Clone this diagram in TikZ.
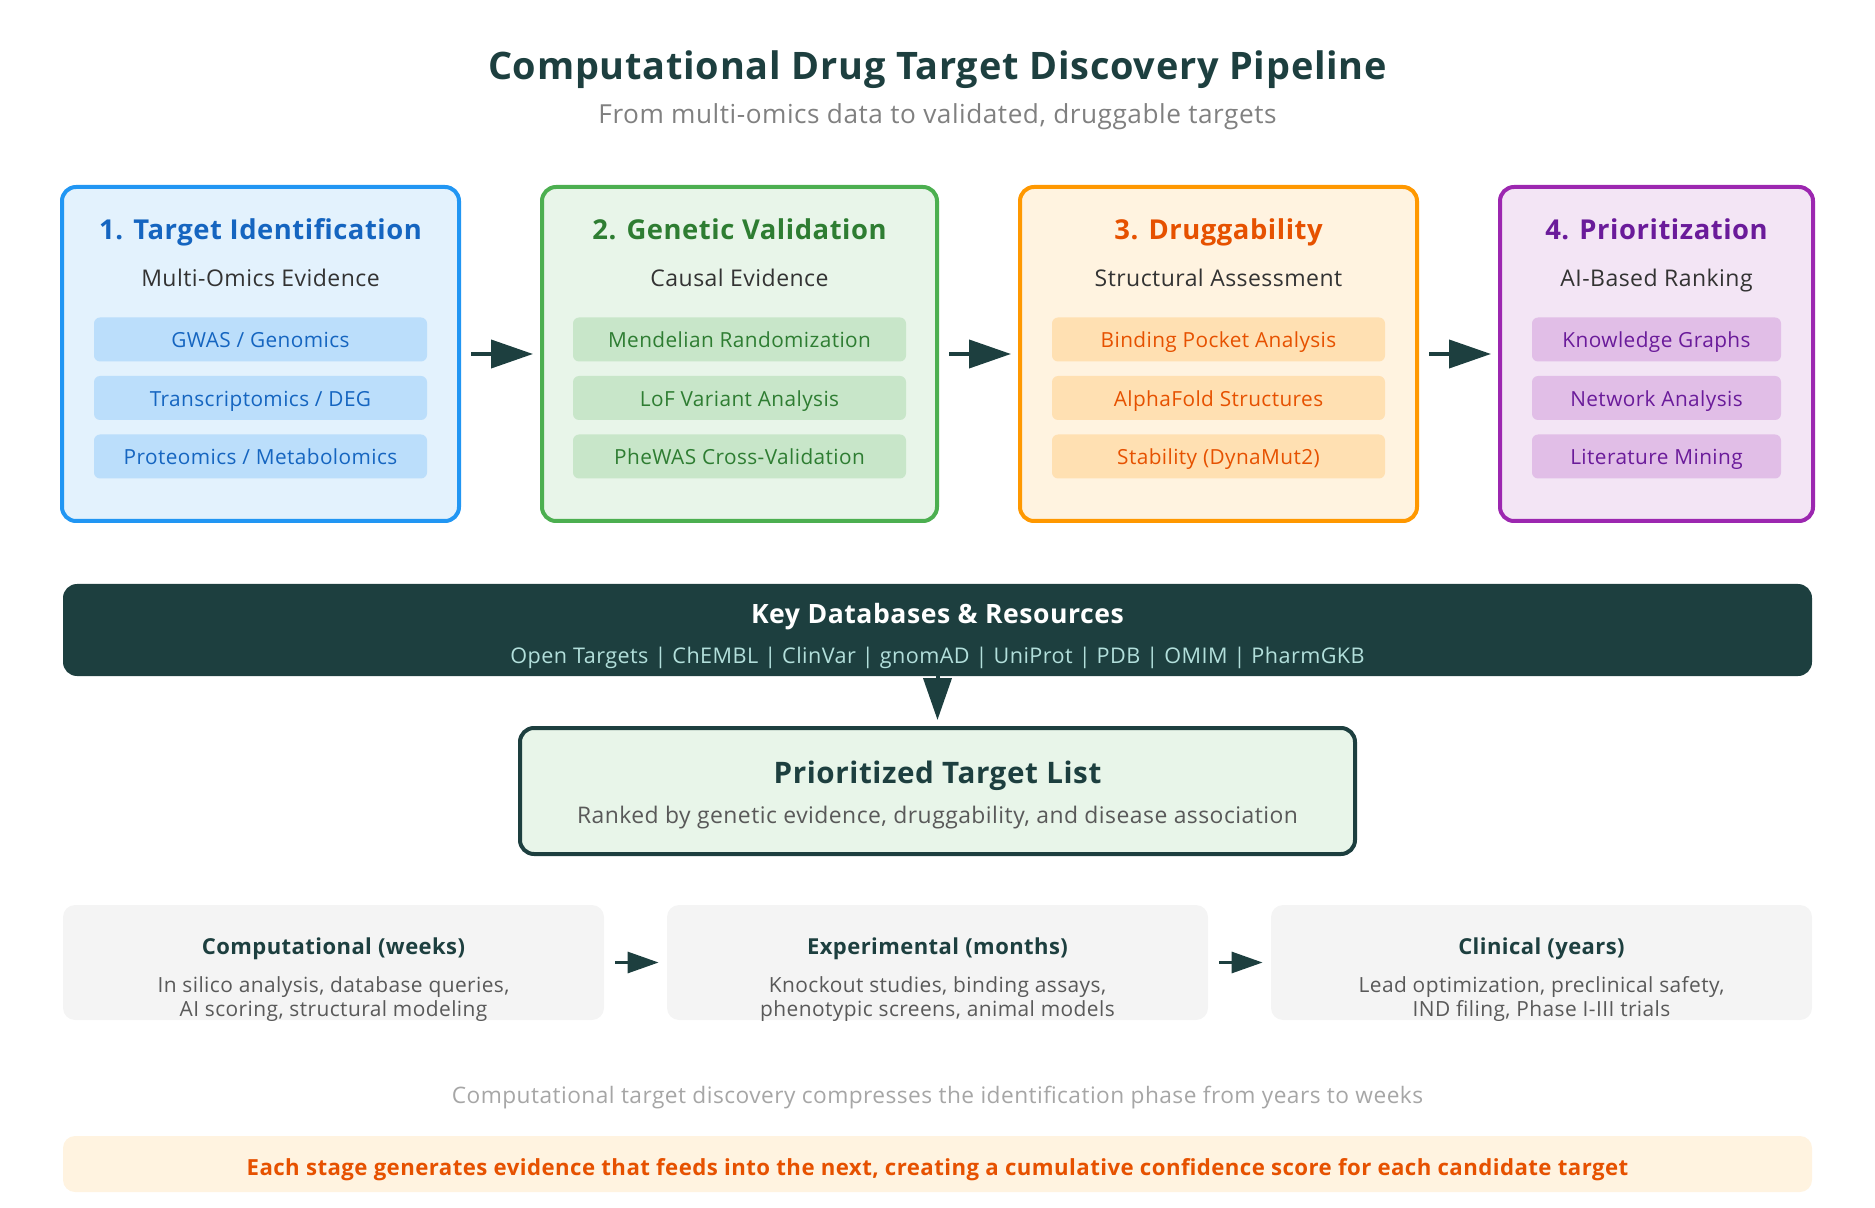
\documentclass[tikz,border=0pt]{standalone}
\usepackage{fontspec}
\setmainfont{Open Sans}[LetterSpace=2]
\usepackage{tikz}
\usetikzlibrary{positioning, arrows.meta}
\usepackage{xcolor}

\definecolor{dark}{HTML}{1D3F3F}
\definecolor{bluefill}{HTML}{E3F2FD}
\definecolor{blueline}{HTML}{2196F3}
\definecolor{blueitem}{HTML}{BBDEFB}
\definecolor{bluetext}{HTML}{1565C0}
\definecolor{greenfill}{HTML}{E8F5E9}
\definecolor{greenline}{HTML}{4CAF50}
\definecolor{greenitem}{HTML}{C8E6C9}
\definecolor{greentext}{HTML}{2E7D32}
\definecolor{orangefill}{HTML}{FFF3E0}
\definecolor{orangeline}{HTML}{FF9800}
\definecolor{orangeitem}{HTML}{FFE0B2}
\definecolor{orangetext}{HTML}{E65100}
\definecolor{purplefill}{HTML}{F3E5F5}
\definecolor{purpleline}{HTML}{9C27B0}
\definecolor{purpleitem}{HTML}{E1BEE7}
\definecolor{purpletext}{HTML}{6A1B9A}
\definecolor{graybox}{HTML}{F4F4F4}
\definecolor{dbtext}{HTML}{B2DFDB}

\begin{document}
\begin{tikzpicture}[x=0.5pt, y=-0.5pt, >={Triangle[length=21pt,width=14pt]},
  every node/.style={font=\small},
  stage/.style={rectangle, rounded corners=7pt, line width=2pt, minimum height=167pt},
  stagetitle/.style={anchor=base, font=\fontsize{13.7}{16}\selectfont\bfseries},
  stagesub/.style={anchor=base, font=\fontsize{11.5}{13}\selectfont, text=black!80},
  item/.style={rectangle, rounded corners=3pt, minimum height=22pt, inner sep=0pt, text height=8.5pt, text depth=0pt, font=\fontsize{10.4}{12}\selectfont},
  phase/.style={rectangle, rounded corners=6pt, fill=graybox, minimum width=270.5pt, minimum height=57.5pt},
  phasetitle/.style={anchor=base, font=\fontsize{11}{13}\selectfont\bfseries, text=dark},
  phasetext/.style={font=\fontsize{10.45}{12}\selectfont, text=black!65, align=center},
  link/.style={->, line width=2pt, dark}]

\useasboundingbox (0,0) rectangle (1875,1208);

% Title
\node[anchor=base] at (937.5,80) (title) {\fontsize{18.95}{22}\selectfont\bfseries\color{dark}Computational Drug Target Discovery Pipeline};
\node[anchor=base] at (937.5,124) (subtitle) {\fontsize{13.1}{15}\selectfont\color{black!50}From multi-omics data to validated, druggable targets};

% Stage 1
\node[stage, draw=blueline, fill=bluefill, minimum width=198.5pt] at (260.5,354) (S1) {};
\node[stagetitle, text=bluetext] at (260.5,240) (S1t) {1. Target Identification};
\node[stagesub] at (260.5,287) (S1s) {Multi-Omics Evidence};
\node[item, fill=blueitem, text=bluetext, minimum width=166.5pt] at (260.5,339.5) (S1a) {GWAS / Genomics};
\node[item, fill=blueitem, text=bluetext, minimum width=166.5pt] at (260.5,398) (S1b) {Transcriptomics / DEG};
\node[item, fill=blueitem, text=bluetext, minimum width=166.5pt] at (260.5,456.5) (S1c) {Proteomics / Metabolomics};

% Stage 2
\node[stage, draw=greenline, fill=greenfill, minimum width=197.5pt] at (739.5,354) (S2) {};
\node[stagetitle, text=greentext] at (739.5,240) (S2t) {2. Genetic Validation};
\node[stagesub] at (739.5,287) (S2s) {Causal Evidence};
\node[item, fill=greenitem, text=greentext, minimum width=166.5pt] at (739.5,339.5) (S2a) {Mendelian Randomization};
\node[item, fill=greenitem, text=greentext, minimum width=166.5pt] at (739.5,398) (S2b) {LoF Variant Analysis};
\node[item, fill=greenitem, text=greentext, minimum width=166.5pt] at (739.5,456.5) (S2c) {PheWAS Cross-Validation};

% Stage 3
\node[stage, draw=orangeline, fill=orangefill, minimum width=198.5pt] at (1218.5,354) (S3) {};
\node[stagetitle, text=orangetext] at (1218.5,240) (S3t) {3. Druggability};
\node[stagesub] at (1218.5,287) (S3s) {Structural Assessment};
\node[item, fill=orangeitem, text=orangetext, minimum width=166.5pt] at (1218.5,339.5) (S3a) {Binding Pocket Analysis};
\node[item, fill=orangeitem, text=orangetext, minimum width=166.5pt] at (1218.5,398) (S3b) {AlphaFold Structures};
\node[item, fill=orangeitem, text=orangetext, minimum width=166.5pt] at (1218.5,456.5) (S3c) {Stability (DynaMut2)};

% Stage 4
\node[stage, draw=purpleline, fill=purplefill, minimum width=156.5pt] at (1656.5,354) (S4) {};
\node[stagetitle, text=purpletext] at (1656.5,240) (S4t) {4. Prioritization};
\node[stagesub] at (1656.5,287) (S4s) {AI-Based Ranking};
\node[item, fill=purpleitem, text=purpletext, minimum width=124.5pt] at (1656.5,339.5) (S4a) {Knowledge Graphs};
\node[item, fill=purpleitem, text=purpletext, minimum width=124.5pt] at (1656.5,398) (S4b) {Network Analysis};
\node[item, fill=purpleitem, text=purpletext, minimum width=124.5pt] at (1656.5,456.5) (S4c) {Literature Mining};

% Stage arrows
\foreach \a/\b in {S1/S2, S2/S3, S3/S4} {
    \draw[link, shorten <=5pt, shorten >=3.5pt] (\a) -- (\b);
}

% Databases
\node[rectangle, rounded corners=7pt, fill=dark, minimum width=874.5pt, minimum height=46pt] at (937.5,630) (DB) {};
\node[anchor=base] at (937.5,624) (DBt) {\fontsize{13.3}{15}\selectfont\bfseries\color{white}Key Databases \& Resources};
\node[anchor=base] at (937.5,663) (DBs) {\fontsize{10.8}{13}\selectfont\color{dbtext}Open Targets | ChEMBL | ClinVar | gnomAD | UniProt | PDB | OMIM | PharmGKB};

% Prioritized list
\node[rectangle, rounded corners=7pt, draw=dark, line width=2pt, fill=greenfill, minimum width=417.5pt, minimum height=63pt] at (937.5,791) (PT) {};
\node[anchor=base] at (937.5,783) (PTt) {\fontsize{14.8}{17}\selectfont\bfseries\color{dark}Prioritized Target List};
\node[anchor=base] at (937.5,823) (PTs) {\fontsize{11.45}{13}\selectfont\color{black!65}Ranked by genetic evidence, druggability, and disease association};
\draw[link, shorten >=3pt] (DB) -- (PT);

% Timeline
\node[phase] at (333.5,962.5) (P1) {};
\node[phasetitle] at (333.5,954) (P1t) {Computational (weeks)};
\node[phasetext] at (333.5,999.5) (P1s) {In silico analysis, database queries,\\AI scoring, structural modeling};
\node[phase] at (937.5,962.5) (P2) {};
\node[phasetitle] at (937.5,954) (P2t) {Experimental (months)};
\node[phasetext] at (937.5,999.5) (P2s) {Knockout studies, binding assays,\\phenotypic screens, animal models};
\node[phase] at (1541.5,962.5) (P3) {};
\node[phasetitle] at (1541.5,954) (P3t) {Clinical (years)};
\node[phasetext] at (1541.5,999.5) (P3s) {Lead optimization, preclinical safety,\\IND filing, Phase I-III trials};

\foreach \a/\b in {P1/P2, P2/P3} {
    \draw[->, >={Triangle[length=15.5pt,width=10.5pt]}, line width=1.5pt, dark, shorten <=5.5pt, shorten >=4pt] (\a) -- (\b);
}

% Notes
\node[anchor=base] at (937.5,1103) (note) {\fontsize{11.35}{13}\selectfont\color{black!35}Computational target discovery compresses the identification phase from years to weeks};
\node[rectangle, rounded corners=6pt, fill=orangefill, minimum width=874.5pt, minimum height=28pt] at (937.5,1164) (NB) {};
\node[anchor=base] at (937.5,1175) (NBt) {\fontsize{11.1}{13}\selectfont\bfseries\color{orangetext}Each stage generates evidence that feeds into the next, creating a cumulative confidence score for each candidate target};
\end{tikzpicture}
\end{document}
